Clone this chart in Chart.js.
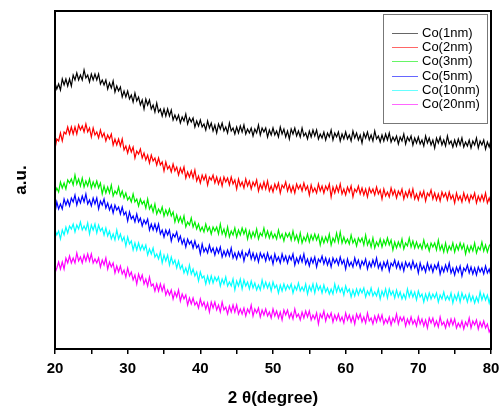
<!DOCTYPE html>
<html>
<head>
<meta charset="utf-8">
<script src="https://cdn.jsdelivr.net/npm/chart.js@4.4.1/dist/chart.umd.min.js"></script>
<style>
  html, body { margin: 0; padding: 0; background: #ffffff; }
  #c { display: block; }
</style>
</head>
<body>
<canvas id="c" width="504" height="410"></canvas>
<script>
// Diffraction angle 2θ (degree), sampled every 0.25°
const twoTheta = [
  20, 20.25, 20.5, 20.75, 21, 21.25, 21.5, 21.75,
  22, 22.25, 22.5, 22.75, 23, 23.25, 23.5, 23.75,
  24, 24.25, 24.5, 24.75, 25, 25.25, 25.5, 25.75,
  26, 26.25, 26.5, 26.75, 27, 27.25, 27.5, 27.75,
  28, 28.25, 28.5, 28.75, 29, 29.25, 29.5, 29.75,
  30, 30.25, 30.5, 30.75, 31, 31.25, 31.5, 31.75,
  32, 32.25, 32.5, 32.75, 33, 33.25, 33.5, 33.75,
  34, 34.25, 34.5, 34.75, 35, 35.25, 35.5, 35.75,
  36, 36.25, 36.5, 36.75, 37, 37.25, 37.5, 37.75,
  38, 38.25, 38.5, 38.75, 39, 39.25, 39.5, 39.75,
  40, 40.25, 40.5, 40.75, 41, 41.25, 41.5, 41.75,
  42, 42.25, 42.5, 42.75, 43, 43.25, 43.5, 43.75,
  44, 44.25, 44.5, 44.75, 45, 45.25, 45.5, 45.75,
  46, 46.25, 46.5, 46.75, 47, 47.25, 47.5, 47.75,
  48, 48.25, 48.5, 48.75, 49, 49.25, 49.5, 49.75,
  50, 50.25, 50.5, 50.75, 51, 51.25, 51.5, 51.75,
  52, 52.25, 52.5, 52.75, 53, 53.25, 53.5, 53.75,
  54, 54.25, 54.5, 54.75, 55, 55.25, 55.5, 55.75,
  56, 56.25, 56.5, 56.75, 57, 57.25, 57.5, 57.75,
  58, 58.25, 58.5, 58.75, 59, 59.25, 59.5, 59.75,
  60, 60.25, 60.5, 60.75, 61, 61.25, 61.5, 61.75,
  62, 62.25, 62.5, 62.75, 63, 63.25, 63.5, 63.75,
  64, 64.25, 64.5, 64.75, 65, 65.25, 65.5, 65.75,
  66, 66.25, 66.5, 66.75, 67, 67.25, 67.5, 67.75,
  68, 68.25, 68.5, 68.75, 69, 69.25, 69.5, 69.75,
  70, 70.25, 70.5, 70.75, 71, 71.25, 71.5, 71.75,
  72, 72.25, 72.5, 72.75, 73, 73.25, 73.5, 73.75,
  74, 74.25, 74.5, 74.75, 75, 75.25, 75.5, 75.75,
  76, 76.25, 76.5, 76.75, 77, 77.25, 77.5, 77.75,
  78, 78.25, 78.5, 78.75, 79, 79.25, 79.5, 79.75,
  80
];

// Intensities (a.u.), each pattern stacked with its own vertical offset
const co1nm = [
  266, 260, 265, 259, 270, 264, 270, 263,
  270, 263, 274, 269, 276, 269, 274, 269,
  279, 271, 274, 267, 275, 269, 275, 269,
  275, 265, 269, 264, 269, 260, 266, 261,
  268, 257, 263, 258, 262, 252, 258, 252,
  258, 250, 254, 247, 256, 248, 252, 244,
  249, 240, 250, 244, 249, 240, 244, 237,
  246, 237, 240, 233, 240, 233, 240, 233,
  239, 229, 234, 229, 234, 226, 232, 228,
  235, 225, 231, 227, 231, 222, 228, 223,
  229, 222, 225, 219, 228, 221, 226, 218,
  224, 216, 225, 220, 226, 218, 222, 216,
  226, 218, 221, 215, 222, 216, 223, 217,
  224, 215, 220, 216, 221, 213, 220, 216,
  224, 214, 221, 217, 221, 212, 219, 214,
  221, 214, 218, 212, 222, 215, 220, 212,
  218, 210, 220, 215, 221, 213, 218, 212,
  221, 213, 216, 210, 218, 212, 219, 213,
  219, 210, 215, 211, 217, 209, 216, 212,
  219, 209, 216, 212, 217, 208, 215, 210,
  217, 210, 214, 208, 218, 211, 216, 209,
  214, 206, 216, 211, 217, 209, 214, 208,
  218, 210, 213, 207, 214, 208, 215, 209,
  216, 207, 212, 208, 213, 205, 212, 208,
  215, 205, 212, 208, 213, 204, 211, 206,
  212, 205, 209, 203, 213, 206, 211, 204,
  209, 201, 211, 206, 212, 204, 209, 203,
  213, 205, 208, 202, 209, 203, 210, 204,
  211, 202, 207, 203, 209, 201, 208, 204,
  211, 201, 208, 204, 209, 200, 207, 202,
  209
];
const co2nm = [
  200, 210, 208, 216, 208, 217, 215, 222,
  215, 222, 215, 222, 215, 224, 219, 223,
  217, 225, 217, 221, 212, 221, 214, 217,
  211, 219, 212, 216, 208, 214, 210, 215,
  204, 210, 204, 210, 203, 210, 199, 203,
  196, 203, 197, 202, 191, 198, 195, 200,
  191, 196, 189, 194, 186, 194, 188, 191,
  184, 191, 184, 187, 178, 187, 180, 183,
  177, 185, 178, 182, 174, 181, 176, 182,
  171, 177, 172, 178, 171, 179, 168, 173,
  166, 174, 169, 174, 164, 172, 169, 174,
  166, 172, 165, 171, 163, 172, 167, 171,
  164, 172, 165, 169, 160, 170, 163, 167,
  161, 170, 163, 168, 160, 167, 163, 169,
  158, 165, 160, 167, 160, 168, 158, 163,
  157, 165, 160, 166, 156, 164, 161, 167,
  158, 164, 157, 163, 156, 165, 160, 164,
  158, 166, 159, 163, 154, 164, 157, 161,
  156, 165, 158, 163, 156, 163, 159, 165,
  152, 162, 156, 163, 157, 165, 155, 160,
  154, 162, 157, 163, 152, 160, 157, 163,
  155, 161, 154, 160, 152, 161, 156, 160,
  154, 162, 155, 159, 150, 160, 153, 157,
  152, 161, 154, 159, 151, 158, 154, 160,
  150, 157, 152, 159, 152, 160, 150, 155,
  149, 157, 152, 158, 148, 156, 153, 159,
  150, 156, 149, 155, 148, 157, 152, 156,
  149, 157, 150, 154, 146, 156, 149, 153,
  147, 156, 149, 154, 147, 154, 150, 156,
  146, 153, 148, 154, 148, 156, 146, 151,
  145
];
const co3nm = [
  156, 161, 157, 167, 161, 166, 160, 169,
  166, 170, 164, 174, 165, 170, 163, 171,
  162, 168, 163, 170, 161, 167, 162, 168,
  161, 166, 155, 163, 156, 162, 156, 164,
  153, 158, 155, 162, 153, 158, 151, 156,
  149, 152, 147, 155, 147, 150, 143, 150,
  145, 148, 141, 150, 140, 144, 137, 145,
  135, 140, 136, 142, 133, 139, 134, 140,
  133, 137, 127, 134, 127, 132, 126, 133,
  122, 127, 124, 131, 122, 127, 120, 125,
  118, 122, 117, 125, 118, 122, 115, 122,
  118, 122, 115, 125, 115, 120, 113, 122,
  112, 118, 114, 121, 112, 119, 114, 121,
  115, 120, 110, 118, 111, 117, 112, 120,
  110, 116, 113, 121, 112, 118, 111, 117,
  111, 115, 110, 119, 111, 115, 108, 116,
  112, 116, 109, 118, 109, 114, 107, 116,
  106, 112, 108, 115, 107, 114, 109, 115,
  109, 114, 104, 112, 106, 112, 107, 115,
  104, 111, 107, 116, 107, 117, 106, 112,
  106, 110, 105, 114, 106, 110, 103, 111,
  107, 111, 104, 114, 104, 109, 102, 111,
  101, 107, 103, 110, 102, 109, 104, 111,
  104, 109, 99, 107, 101, 107, 102, 110,
  100, 106, 103, 111, 102, 108, 101, 107,
  101, 105, 100, 109, 101, 105, 98, 106,
  102, 106, 99, 109, 99, 104, 97, 106,
  97, 103, 99, 106, 97, 104, 99, 106,
  100, 105, 95, 103, 97, 103, 98, 106,
  96, 102, 99, 107, 98, 104, 97, 103,
  106
];
const co5nm = [
  136, 147, 140, 145, 140, 150, 144, 149,
  143, 151, 147, 154, 144, 151, 146, 153,
  147, 155, 145, 149, 143, 151, 145, 151,
  140, 148, 144, 150, 141, 146, 139, 144,
  136, 144, 139, 142, 135, 142, 134, 137,
  128, 137, 130, 133, 127, 135, 127, 131,
  123, 129, 125, 130, 119, 125, 119, 125,
  118, 125, 115, 119, 112, 119, 114, 119,
  108, 115, 112, 117, 108, 113, 105, 110,
  102, 110, 105, 108, 101, 108, 101, 104,
  95, 105, 97, 101, 96, 104, 97, 101,
  94, 101, 96, 102, 92, 98, 93, 99,
  93, 101, 91, 96, 90, 97, 92, 98,
  88, 96, 93, 99, 90, 96, 89, 95,
  87, 96, 91, 95, 88, 96, 89, 93,
  85, 95, 88, 92, 86, 95, 88, 93,
  86, 93, 89, 95, 84, 91, 86, 93,
  87, 95, 85, 90, 83, 91, 86, 92,
  82, 90, 87, 93, 85, 91, 84, 90,
  82, 91, 86, 90, 84, 92, 85, 89,
  80, 90, 83, 87, 82, 91, 84, 89,
  81, 88, 84, 90, 80, 87, 82, 89,
  83, 91, 81, 86, 79, 87, 82, 88,
  78, 86, 83, 89, 81, 87, 80, 86,
  78, 87, 82, 86, 80, 88, 81, 85,
  76, 86, 79, 83, 77, 86, 79, 84,
  77, 84, 80, 86, 75, 82, 77, 84,
  78, 86, 76, 81, 74, 82, 77, 83,
  73, 81, 78, 84, 76, 82, 75, 81,
  74, 82, 77, 81, 75, 83, 76, 80,
  73
];
const co10nm = [
  119, 114, 118, 110, 119, 114, 122, 116,
  123, 120, 125, 117, 124, 120, 127, 119,
  123, 119, 126, 115, 124, 119, 125, 116,
  124, 118, 121, 114, 121, 113, 118, 110,
  115, 109, 119, 110, 115, 108, 112, 103,
  112, 105, 108, 99, 106, 99, 106, 99,
  104, 99, 104, 94, 100, 95, 101, 92,
  95, 90, 97, 86, 94, 88, 94, 84,
  92, 85, 89, 81, 88, 80, 84, 76,
  81, 75, 84, 75, 80, 73, 77, 68,
  77, 71, 73, 65, 73, 66, 73, 66,
  72, 68, 72, 63, 70, 65, 72, 63,
  67, 63, 70, 59, 68, 63, 70, 60,
  69, 63, 67, 60, 68, 61, 66, 59,
  64, 59, 69, 61, 67, 61, 66, 58,
  67, 61, 64, 56, 64, 58, 65, 59,
  64, 60, 65, 56, 63, 59, 66, 58,
  62, 58, 65, 55, 63, 58, 65, 56,
  65, 59, 63, 56, 64, 57, 61, 55,
  60, 55, 65, 57, 63, 57, 61, 54,
  63, 57, 60, 52, 59, 53, 60, 54,
  60, 56, 61, 52, 58, 54, 61, 53,
  57, 53, 60, 50, 58, 53, 60, 51,
  60, 54, 58, 51, 59, 52, 57, 50,
  55, 50, 60, 52, 58, 52, 57, 49,
  58, 52, 55, 47, 55, 49, 56, 50,
  55, 51, 56, 47, 54, 50, 57, 49,
  53, 49, 56, 46, 54, 49, 56, 47,
  56, 50, 54, 47, 55, 48, 53, 46,
  52, 47, 57, 49, 55, 49, 54, 46,
  54
];
const co20nm = [
  76, 81, 87, 80, 87, 80, 91, 86,
  93, 86, 91, 86, 96, 88, 92, 86,
  94, 88, 95, 88, 95, 86, 90, 86,
  91, 82, 89, 84, 91, 80, 87, 82,
  86, 76, 83, 77, 83, 75, 79, 72,
  81, 73, 77, 69, 74, 65, 75, 69,
  74, 65, 70, 63, 72, 63, 65, 58,
  65, 58, 65, 58, 64, 54, 59, 54,
  59, 50, 57, 52, 59, 48, 55, 50,
  54, 44, 51, 45, 51, 44, 47, 41,
  50, 43, 47, 40, 46, 37, 47, 41,
  47, 39, 44, 37, 47, 39, 42, 35,
  43, 37, 44, 37, 44, 35, 40, 35,
  41, 33, 40, 36, 44, 33, 40, 36,
  41, 32, 39, 34, 40, 33, 37, 31,
  40, 33, 38, 31, 37, 29, 39, 34,
  39, 31, 36, 30, 40, 32, 35, 29,
  37, 31, 38, 32, 38, 29, 34, 30,
  36, 25, 35, 31, 38, 28, 35, 31,
  36, 27, 34, 29, 35, 28, 32, 26,
  36, 29, 34, 27, 33, 25, 35, 30,
  35, 27, 32, 26, 36, 28, 31, 25,
  33, 27, 34, 28, 34, 25, 30, 26,
  32, 24, 31, 27, 35, 25, 32, 28,
  32, 23, 30, 25, 32, 25, 29, 23,
  32, 25, 30, 23, 29, 21, 31, 26,
  31, 23, 28, 22, 32, 24, 27, 21,
  29, 23, 30, 24, 30, 21, 26, 22,
  28, 20, 27, 23, 31, 21, 28, 24,
  29, 20, 27, 22, 28, 21, 25, 17,
  21
];

const seriesNames = ['Co(1nm)', 'Co(2nm)', 'Co(3nm)', 'Co(5nm)', 'Co(10nm)', 'Co(20nm)'];
const seriesValues = [co1nm, co2nm, co3nm, co5nm, co10nm, co20nm];
const seriesColors = ['#000000', '#ff0000', '#00ee00', '#0000ff', '#00ffff', '#ff00ff'];
const labelledTicks = [20, 30, 40, 50, 60, 70, 80];

const FONT = '"Liberation Sans", Arial, Helvetica, sans-serif';

// Black frame around the plotting area
const plotFrame = {
  id: 'plotFrame',
  afterDatasetsDraw(chart) {
    const { ctx, chartArea: a } = chart;
    ctx.save();
    ctx.strokeStyle = '#000000';
    ctx.lineWidth = 2;
    ctx.strokeRect(a.left, a.top, a.right - a.left, a.bottom - a.top);
    ctx.restore();
  }
};

// Boxed legend in the upper right corner of the plot
const boxedLegend = {
  id: 'boxedLegend',
  afterDraw(chart) {
    const { ctx, chartArea: a } = chart;
    const w = 104, h = 109;
    const x0 = Math.round(a.right - 4 - w), y0 = Math.round(a.top + 3);
    ctx.save();
    ctx.fillStyle = '#ffffff';
    ctx.fillRect(x0, y0, w, h);
    ctx.strokeStyle = '#777777';
    ctx.lineWidth = 1;
    ctx.strokeRect(x0 + 0.5, y0 + 0.5, w, h);
    ctx.font = '13px ' + FONT;
    ctx.textBaseline = 'middle';
    ctx.textAlign = 'left';
    chart.data.datasets.forEach((ds, i) => {
      const y = Math.round(y0 + 19 + i * 14.2) + 0.5;
      ctx.globalAlpha = 0.6;
      ctx.strokeStyle = ds.borderColor;
      ctx.lineWidth = 1;
      ctx.beginPath();
      ctx.moveTo(x0 + 9, y);
      ctx.lineTo(x0 + 35, y);
      ctx.stroke();
      ctx.globalAlpha = 1;
      ctx.fillStyle = '#000000';
      ctx.fillText(ds.label, x0 + 39, y);
    });
    ctx.restore();
  }
};

const datasets = seriesNames.map((name, s) => ({
  label: name,
  data: twoTheta.map((t, i) => ({ x: t, y: seriesValues[s][i] })),
  borderColor: seriesColors[s],
  borderWidth: 1.2,
  pointRadius: 0,
  tension: 0,
  fill: false
}));

new Chart(document.getElementById('c'), {
  type: 'line',
  data: { datasets },
  options: {
    responsive: false,
    devicePixelRatio: 1,
    animation: false,
    layout: { padding: { left: 8, right: 13, top: 11, bottom: 0 } },
    plugins: { legend: { display: false }, tooltip: { enabled: false } },
    scales: {
      x: {
        type: 'linear',
        min: 20,
        max: 80,
        border: { display: false },
        grid: {
          display: true,
          drawOnChartArea: false,
          drawTicks: true,
          tickLength: 5,
          color: '#000000',
          lineWidth: 1.5
        },
        ticks: {
          stepSize: 5,
          autoSkip: false,
          maxRotation: 0,
          padding: 3,
          color: '#000000',
          font: { family: FONT, size: 15, weight: 'bold', lineHeight: 1.6 },
          callback: (v) => labelledTicks.includes(v) ? String(v) : ''
        },
        title: {
          display: true,
          text: '2 θ(degree)',
          color: '#000000',
          font: { family: FONT, size: 17, weight: 'bold' },
          padding: { top: 3.8, bottom: 1.8 }
        }
      },
      y: {
        type: 'linear',
        min: 0,
        max: 338,
        border: { display: false },
        grid: { display: false, drawTicks: false },
        ticks: { display: false },
        title: {
          display: true,
          text: 'a.u.',
          color: '#000000',
          font: { family: FONT, size: 17, weight: 'bold' },
          padding: { top: 3, bottom: 23.6 }
        }
      }
    }
  },
  plugins: [plotFrame, boxedLegend]
});
</script>
</body>
</html>
